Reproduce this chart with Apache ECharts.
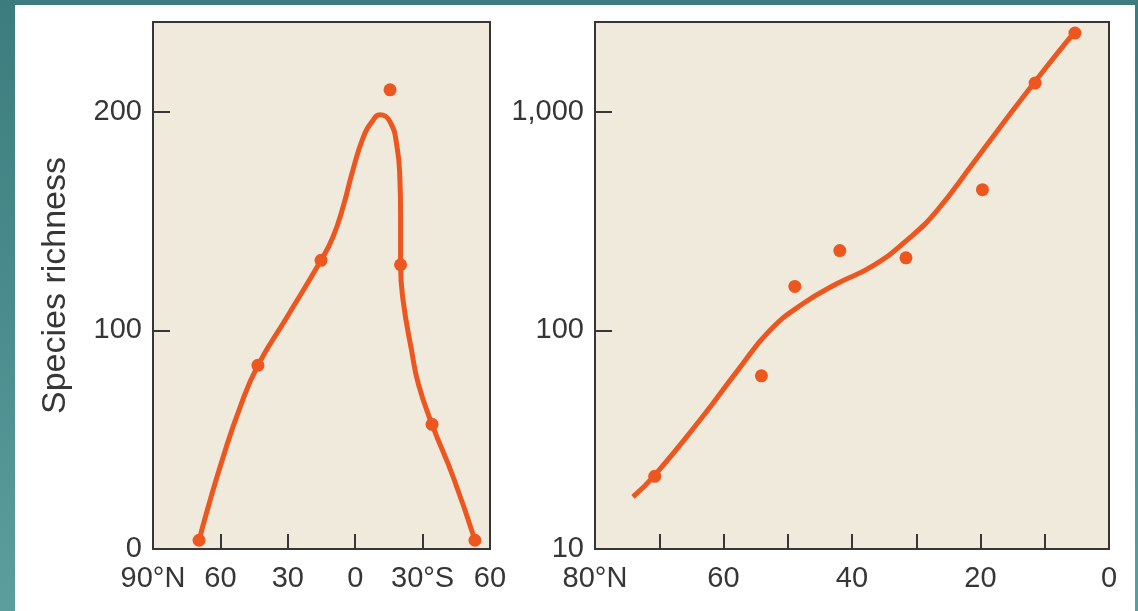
<!DOCTYPE html>
<html>
<head>
<meta charset="utf-8">
<script src="https://cdn.jsdelivr.net/npm/echarts@6/dist/echarts.min.js"></script>
<style>
  html, body { margin: 0; padding: 0; width: 1138px; height: 611px; overflow: hidden;
    background: linear-gradient(to bottom, #3c7c7e 0%, #4a8c8d 50%, #5b9e9d 100%); }
  #chart { position: absolute; left: 15px; top: 5px; width: 1120px; height: 606px; background: #ffffff; }
</style>
</head>
<body>
<div id="chart"></div>
<script>
// ---- Left panel: species richness vs latitude (negative = °N, positive = °S)
const leftPointsLat   = [-69.5, -43.3, -15.2, 15.5, 20.2, 34.2, 53.3];
const leftPointsRich  = [4, 84, 132, 210, 130, 57, 4];
const leftCurveLat    = [-69.5, -65.5, -58.8, -51.3, -43.3, -30.4, -15.2, -9.9, -5.4, -1.0, 3.5, 7.5, 11.0, 15.5, 18.6, 19.9, 20.2, 20.2, 21.3, 25.1, 28.1, 34.2, 43.7, 53.3];
const leftCurveRich   = [4, 19, 42, 64.7, 84, 106, 132, 142.7, 156.4, 173.4, 188, 195.4, 198.6, 195.4, 184, 168.8, 153.7, 130, 113.8, 90.8, 75.5, 57, 32.7, 4];
const leftXLabels     = [-90, -60, -30, 0, 30, 60];
const leftXLabelText  = ['90°N', '60', '30', '0', '30°S', '60'];
const leftXTicks      = [-60, -30, 0, 30];
const leftYLabels     = [0, 100, 200];
const leftYTicks      = [100, 200];

// ---- Right panel: species richness (log) vs latitude °N
const rightPointsLat  = [70.7, 54.1, 48.9, 41.9, 31.6, 19.7, 11.5, 5.3];
const rightPointsRich = [21.5, 62, 159, 232, 215, 441, 1355, 2296];
const rightCurveLat   = [74.1, 70.7, 63.2, 57.9, 52.8, 47.6, 42.3, 36.7, 31.0, 26.8, 21.2, 17.0, 11.8, 6.1, 5.3];
const rightCurveRich  = [17.3, 21.8, 40.5, 65, 100, 132.8, 164, 198, 266, 353, 579, 847, 1342, 2184, 2296];
const rightXLabels    = [0, 20, 40, 60, 80];
const rightXTicks     = [10, 20, 30, 40, 50, 60, 70];
const rightYLabels    = [10, 100, 1000];
const rightYTicks     = [100, 1000];

const yAxisTitle = 'Species richness';

const ORANGE = '#ee5620';
const INK = '#363636';
const FONT = '"Liberation Sans", Arial, sans-serif';

function zip(a, b) { return a.map((v, i) => [v, b[i]]); }
function thousands(v) { return String(Math.round(v)).replace(/\B(?=(\d{3})+(?!\d))/g, ','); }

const gridBase = { show: true, backgroundColor: '#efeadc', borderColor: INK, borderWidth: 2, containLabel: false };
const axisLineStyle = { show: true, onZero: false, lineStyle: { color: INK, width: 2 } };
const labelStyle = { color: INK, fontSize: 29, fontFamily: FONT };

const chart = echarts.init(document.getElementById('chart'), null, { renderer: 'canvas' });
chart.setOption({
  animation: false,
  grid: [
    Object.assign({ left: 138, top: 17, width: 337, height: 527 }, gridBase),
    Object.assign({ left: 580, top: 17, width: 514, height: 527 }, gridBase)
  ],
  xAxis: [
    {
      gridIndex: 0, type: 'value', min: -90, max: 60,
      axisLine: axisLineStyle,
      splitLine: { show: false },
      axisTick: { show: true, inside: true, length: 15, lineStyle: { color: INK, width: 2 }, customValues: leftXTicks },
      axisLabel: Object.assign({ margin: 15, customValues: leftXLabels,
        formatter: v => leftXLabelText[leftXLabels.indexOf(v)] }, labelStyle)
    },
    {
      gridIndex: 1, type: 'value', min: 0, max: 80, inverse: true,
      axisLine: axisLineStyle,
      splitLine: { show: false },
      axisTick: { show: true, inside: true, length: 15, lineStyle: { color: INK, width: 2 }, customValues: rightXTicks },
      axisLabel: Object.assign({ margin: 15, customValues: rightXLabels,
        formatter: v => (v === 80 ? '80°N' : String(v)) }, labelStyle)
    }
  ],
  yAxis: [
    {
      gridIndex: 0, type: 'value', min: 0, max: 241, position: 'left',
      name: yAxisTitle, nameLocation: 'middle', nameGap: 80, nameRotate: 90,
      nameTextStyle: { color: INK, fontSize: 34, fontFamily: FONT },
      axisLine: axisLineStyle,
      splitLine: { show: false },
      axisTick: { show: true, inside: true, length: 17, lineStyle: { color: INK, width: 2 }, customValues: leftYTicks },
      axisLabel: Object.assign({ margin: 11, customValues: leftYLabels }, labelStyle)
    },
    {
      gridIndex: 1, type: 'log', logBase: 10, min: 10, max: 2580, position: 'left',
      axisLine: axisLineStyle,
      splitLine: { show: false },
      axisTick: { show: true, inside: true, length: 17, lineStyle: { color: INK, width: 2 }, customValues: rightYTicks },
      axisLabel: Object.assign({ margin: 11, customValues: rightYLabels, formatter: v => thousands(v) }, labelStyle)
    }
  ],
  series: [
    {
      type: 'line', xAxisIndex: 0, yAxisIndex: 0, data: zip(leftCurveLat, leftCurveRich),
      smooth: 0.5, showSymbol: false, symbol: 'none', lineStyle: { color: ORANGE, width: 5 }, z: 2
    },
    {
      type: 'scatter', xAxisIndex: 0, yAxisIndex: 0, data: zip(leftPointsLat, leftPointsRich),
      symbolSize: 13, itemStyle: { color: ORANGE, opacity: 1 }, z: 3
    },
    {
      type: 'line', xAxisIndex: 1, yAxisIndex: 1, data: zip(rightCurveLat, rightCurveRich),
      smooth: 0.5, showSymbol: false, symbol: 'none', lineStyle: { color: ORANGE, width: 5 }, z: 2
    },
    {
      type: 'scatter', xAxisIndex: 1, yAxisIndex: 1, data: zip(rightPointsLat, rightPointsRich),
      symbolSize: 13, itemStyle: { color: ORANGE, opacity: 1 }, z: 3
    }
  ]
});
</script>
</body>
</html>
